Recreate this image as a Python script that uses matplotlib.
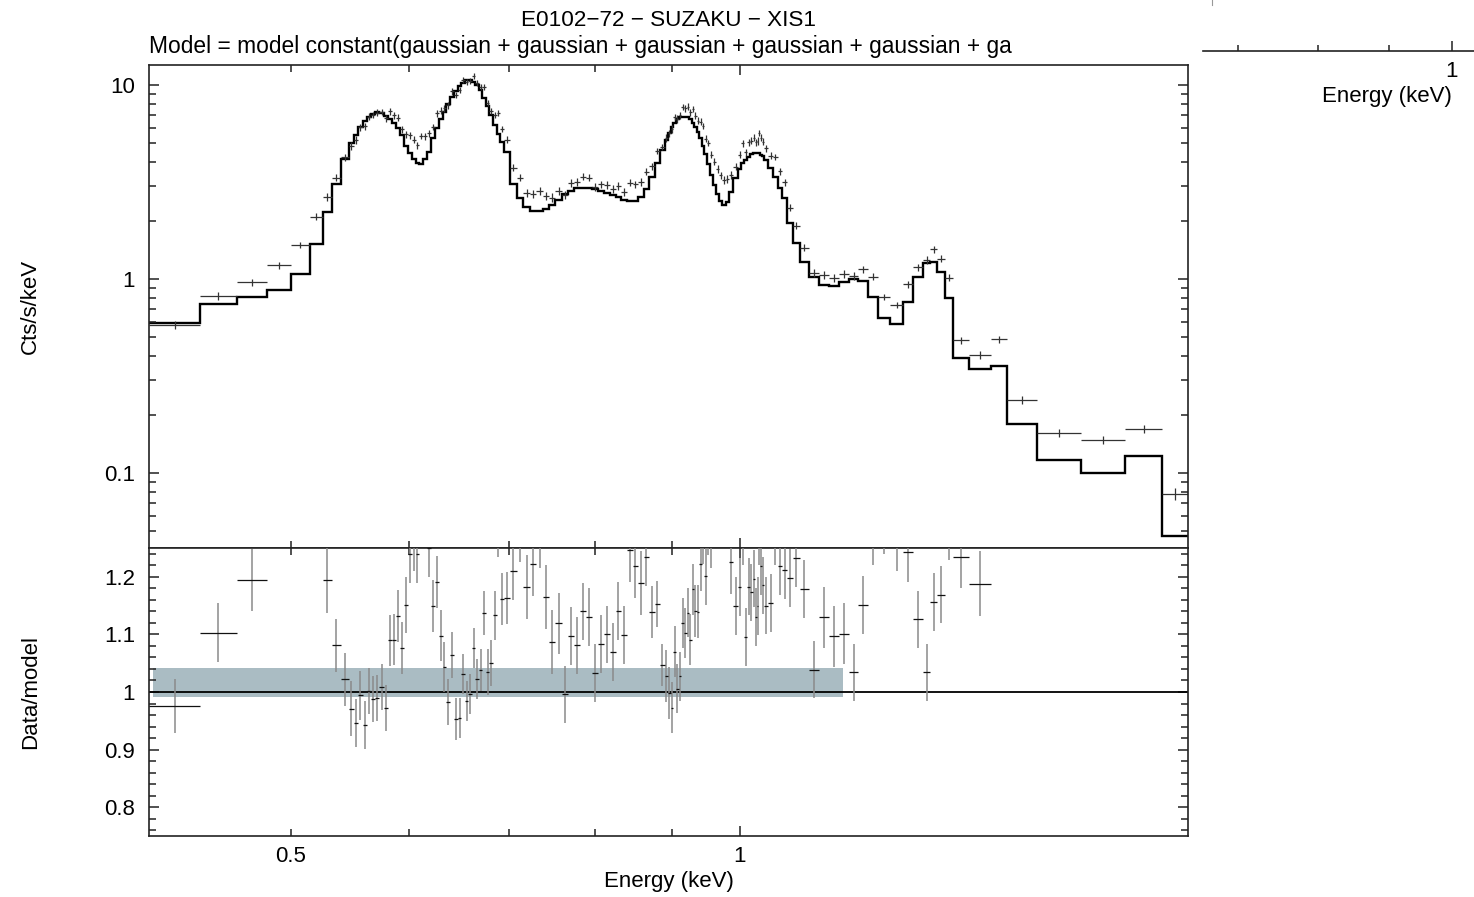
import numpy as np
import matplotlib
matplotlib.use("Agg")
import matplotlib.pyplot as plt
from matplotlib.ticker import FixedLocator, FixedFormatter, NullFormatter, LogLocator
from matplotlib.lines import Line2D

plt.rcParams['font.family'] = ['Liberation Sans', 'DejaVu Sans']

# bin edges (keV)
edges = np.array([
    0.4016, 0.4345, 0.4600, 0.4818, 0.5000, 0.5149, 0.5253, 0.5327, 0.5401,
    0.5468, 0.5510, 0.5548, 0.5585, 0.5623, 0.5659, 0.5695, 0.5732, 0.5769, 0.5806,
    0.5844, 0.5880, 0.5916, 0.5953, 0.5988, 0.6023, 0.6060, 0.6097, 0.6134, 0.6172,
    0.6209, 0.6245, 0.6281, 0.6318, 0.6355, 0.6393, 0.6430, 0.6468, 0.6505, 0.6541,
    0.6575, 0.6610, 0.6646, 0.6682, 0.6720, 0.6756, 0.6793, 0.6831, 0.6869, 0.6905,
    0.6947, 0.7009, 0.7084, 0.7157, 0.7231, 0.7303, 0.7375, 0.7449, 0.7522, 0.7595,
    0.7668, 0.7741, 0.7815, 0.7888, 0.7961, 0.8034, 0.8106, 0.8179, 0.8253, 0.8327,
    0.8401, 0.8473, 0.8544, 0.8618, 0.8693, 0.8766, 0.8837, 0.8901, 0.8948, 0.8985,
    0.9023, 0.9059, 0.9097, 0.9135, 0.9172, 0.9209, 0.9246, 0.9282, 0.9318, 0.9354,
    0.9392, 0.9430, 0.9466, 0.9504, 0.9546, 0.9590, 0.9637, 0.9684, 0.9732, 0.9782,
    0.9835, 0.9900, 0.9969, 1.0023, 1.0067, 1.0111, 1.0158, 1.0200, 1.0234, 1.0262,
    1.0288, 1.0315, 1.0343, 1.0384, 1.0448, 1.0523, 1.0599, 1.0674, 1.0757, 1.0853,
    1.0971, 1.1118, 1.1291, 1.1473, 1.1654, 1.1836,
    1.2004, 1.2191, 1.2380, 1.2606, 1.2868, 1.3068, 1.3271, 1.3409, 1.3561, 1.3723,
    1.3887, 1.4248, 1.4733, 1.5095, 1.5825, 1.6922, 1.8128, 1.9194, 1.9971])

# folded model (Cts/s/keV)
model = np.array([
    0.591, 0.740, 0.804, 0.878, 1.057, 1.52, 2.22, 3.08,
    4.14, 5.0, 5.5, 6.1, 6.5, 6.85, 7.1, 7.27, 7.2, 6.95,
    6.7, 6.4, 6.0, 5.5, 4.85, 4.45, 4.15, 3.95, 3.9, 4.15,
    4.5, 5.3, 6.0, 6.7, 7.3, 8.0, 8.7, 9.3, 9.85, 10.3,
    10.55, 10.55, 10.35, 10.0, 9.4, 8.6, 7.8, 7.0, 6.2, 5.6,
    5.1, 4.5, 3.1, 2.6, 2.36, 2.25, 2.24, 2.30, 2.42, 2.55,
    2.73, 2.85, 2.93, 2.96, 2.95, 2.90, 2.84, 2.78, 2.72, 2.64,
    2.56, 2.52, 2.52, 2.65, 2.9, 3.35, 3.95, 4.6, 5.2, 5.65,
    6.1, 6.4, 6.65, 6.8, 6.88, 6.88, 6.8, 6.65, 6.4, 6.1,
    5.75, 5.3, 4.85, 4.4, 3.9, 3.45, 3.05, 2.75, 2.52, 2.42,
    2.5, 2.8, 3.3, 3.7, 3.95, 4.1, 4.28, 4.4, 4.46, 4.48,
    4.48, 4.45, 4.38, 4.3, 4.1, 3.75, 3.35, 2.95, 2.6, 1.95,
    1.53, 1.23, 1.03, 0.93, 0.92, 0.965, 1.0, 0.975, 0.811, 0.627,
    0.584, 0.758, 1.02, 1.21, 1.23, 1.09, 0.795, 0.391, 0.342, 0.356,
    0.179, 0.116, 0.100, 0.122, 0.0474])

# data (Cts/s/keV)
data = np.array([
    0.577, 0.816, 0.961, 1.181, 1.501, 2.098, 2.651, 3.329,
    4.231, 4.855, 5.203, 6.063, 6.130, 6.864, 7.015, 7.190, 7.265, 6.755,
    7.303, 6.982, 6.792, 5.918, 5.582, 5.518, 5.229, 4.898, 5.46, 5.437,
    5.625, 6.090, 7.146, 7.357, 7.614, 7.864, 9.266, 8.863, 9.407, 10.62,
    10.38, 10.52, 11.14, 10.22, 9.757, 9.778, 8.073, 7.357, 7.025, 7.168,
    5.926, 5.234, 3.751, 3.328, 2.790, 2.750, 2.845, 2.680, 2.631, 2.853,
    2.719, 3.126, 3.167, 3.374, 3.334, 2.996, 3.076, 3.058, 2.908, 3.012,
    2.813, 3.140, 3.072, 3.151, 3.579, 3.816, 4.550, 4.816, 5.346, 5.639,
    5.935, 6.848, 6.690, 6.984, 7.706, 7.582, 7.738, 7.255, 7.539, 6.954,
    6.549, 6.482, 6.160, 5.284, 5.031, 4.382, 4.026, 3.685, 3.427, 3.243,
    3.275, 3.433, 3.792, 4.373, 5.017, 4.494, 5.063, 5.161, 5.339, 5.062,
    5.148, 5.652, 5.339, 5.096, 4.715, 4.328, 4.255, 3.593, 3.151, 2.336,
    1.886, 1.450, 1.070, 1.051, 1.009, 1.062, 1.034, 1.122, 1.030, 0.809,
    0.736, 0.942, 1.149, 1.251, 1.422, 1.274, 1.018, 0.483, 0.406, 0.488,
    0.238, 0.161, 0.148, 0.168, 0.0782])

# data/model
ratio = np.array([
    0.976, 1.103, 1.195, 1.345, 1.42, 1.38, 1.194, 1.081,
    1.022, 0.971, 0.946, 0.994, 0.943, 1.002, 0.988, 0.989, 1.009, 0.972,
    1.090, 1.091, 1.132, 1.076, 1.151, 1.24, 1.26, 1.24, 1.40, 1.31,
    1.25, 1.149, 1.191, 1.098, 1.043, 0.983, 1.065, 0.953, 0.955, 1.031,
    0.984, 0.997, 1.076, 1.022, 1.038, 1.137, 1.035, 1.051, 1.133, 1.28,
    1.162, 1.163, 1.21, 1.28, 1.182, 1.222, 1.27, 1.165, 1.087, 1.119,
    0.996, 1.097, 1.081, 1.140, 1.130, 1.033, 1.083, 1.100, 1.069, 1.141,
    1.099, 1.246, 1.219, 1.189, 1.234, 1.139, 1.152, 1.047, 1.028, 0.998,
    0.973, 1.070, 1.006, 1.027, 1.120, 1.102, 1.138, 1.091, 1.178, 1.140,
    1.139, 1.223, 1.27, 1.201, 1.29, 1.27, 1.32, 1.34, 1.36, 1.34,
    1.31, 1.226, 1.149, 1.182, 1.27, 1.096, 1.183, 1.173, 1.197, 1.130,
    1.149, 1.27, 1.219, 1.185, 1.150, 1.154, 1.27, 1.218, 1.212, 1.198,
    1.233, 1.179, 1.039, 1.13, 1.097, 1.101, 1.034, 1.151, 1.27, 1.29,
    1.26, 1.243, 1.126, 1.034, 1.156, 1.169, 1.28, 1.235, 1.188, 1.37,
    1.33, 1.39, 1.48, 1.38, 1.65])

ratio_err = np.array([
    0.047, 0.051, 0.054, 0.055, 0.055, 0.055, 0.056, 0.046,
    0.046, 0.048, 0.041, 0.042, 0.042, 0.040, 0.040, 0.040, 0.040, 0.040,
    0.044, 0.044, 0.045, 0.045, 0.048, 0.050, 0.050, 0.050, 0.050, 0.050,
    0.050, 0.045, 0.045, 0.045, 0.043, 0.040, 0.040, 0.036, 0.035, 0.035,
    0.035, 0.035, 0.035, 0.035, 0.036, 0.038, 0.040, 0.040, 0.042, 0.045,
    0.045, 0.045, 0.050, 0.055, 0.055, 0.055, 0.055, 0.055, 0.055, 0.053,
    0.050, 0.050, 0.050, 0.050, 0.050, 0.050, 0.050, 0.050, 0.050, 0.050,
    0.050, 0.055, 0.055, 0.055, 0.050, 0.045, 0.040, 0.036, 0.045, 0.045,
    0.044, 0.044, 0.043, 0.043, 0.043, 0.043, 0.043, 0.044, 0.044, 0.045,
    0.046, 0.047, 0.048, 0.050, 0.052, 0.055, 0.058, 0.060, 0.060, 0.060,
    0.060, 0.055, 0.050, 0.050, 0.050, 0.050, 0.050, 0.050, 0.050, 0.050,
    0.050, 0.050, 0.050, 0.050, 0.050, 0.050, 0.050, 0.050, 0.050, 0.050,
    0.050, 0.050, 0.050, 0.053, 0.053, 0.053, 0.050, 0.050, 0.050, 0.050,
    0.050, 0.052, 0.050, 0.050, 0.050, 0.050, 0.050, 0.055, 0.056, 0.060,
    0.060, 0.065, 0.070, 0.065, 0.120])

# shaded band in the ratio panel
band_emin, band_emax = 0.4041, 1.1724
band_lo, band_hi = 0.991, 1.042

title = 'E0102\u221272 \u2212 SUZAKU \u2212 XIS1'
subtitle = 'Model = model constant(gaussian + gaussian + gaussian + gaussian + gaussian + ga'

lo, hi = edges[:-1], edges[1:]
cen = np.sqrt(lo * hi)
xerr = [cen - lo, hi - cen]
data_err = data * ratio_err / ratio

W, H = 1474, 897
fig = plt.figure(figsize=(W / 100, H / 100), dpi=100)
ax1 = fig.add_axes([149 / W, 1 - 548 / H, 1039 / W, 483 / H])
ax2 = fig.add_axes([149 / W, 1 - 836 / H, 1039 / W, 288 / H])

FS = 16
ink = '#222222'

# top panel
ax1.stairs(model, edges, baseline=None, color='black', lw=1.7)
ax1.errorbar(cen, data, xerr=xerr, yerr=data_err, fmt='none',
             ecolor='#333333', elinewidth=0.9, capsize=0)
ax1.set_xscale('log')
ax1.set_yscale('log')
ax1.set_xlim(edges[0], edges[-1])
ax1.set_ylim(0.04106, 12.68)
ax1.yaxis.set_major_locator(FixedLocator([0.1, 1, 10]))
ax1.yaxis.set_major_formatter(FixedFormatter(['0.1', '1', '10']))
ax1.yaxis.set_minor_locator(LogLocator(base=10, subs=range(2, 10)))
ax1.yaxis.set_minor_formatter(NullFormatter())
ax1.set_ylabel('Cts/s/keV', fontsize=FS)

# bottom panel
ax2.fill_between([band_emin, band_emax], band_lo, band_hi, color='#aabcc3', lw=0, zorder=1)
ax2.axhline(1.0, color='black', lw=1.3, zorder=2)
ax2.errorbar(cen, ratio, yerr=ratio_err, fmt='none', ecolor='#8a8a8a',
             elinewidth=1.1, capsize=0, zorder=3)
ax2.errorbar(cen, ratio, xerr=xerr, fmt='none', ecolor='#111111',
             elinewidth=0.9, capsize=0, zorder=4)
ax2.set_xscale('log')
ax2.set_xlim(edges[0], edges[-1])
ax2.set_ylim(0.75, 1.25)
ax2.yaxis.set_major_locator(FixedLocator([0.8, 0.9, 1.0, 1.1, 1.2]))
ax2.yaxis.set_major_formatter(FixedFormatter(['0.8', '0.9', '1', '1.1', '1.2']))
ax2.yaxis.set_minor_locator(FixedLocator(np.arange(0.76, 1.25, 0.02)))
ax2.set_ylabel('Data/model', fontsize=FS)
ax2.set_xlabel('Energy (keV)', fontsize=FS, labelpad=3)

for ax in (ax1, ax2):
    ax.xaxis.set_major_locator(FixedLocator([1.0]))
    ax.xaxis.set_minor_locator(FixedLocator([0.5, 0.6, 0.7, 0.8, 0.9]))
    ax.tick_params(which='both', direction='in', top=True, right=True,
                   labelsize=FS, color=ink, width=1.1)
    ax.tick_params(which='major', length=7.5)
    ax.tick_params(which='minor', length=4.8)
    ax.tick_params(axis='y', which='both', pad=10)
    ax.tick_params(axis='x', which='both', pad=7)
    ax.yaxis.set_label_coords(-0.104, 0.5)
    for s in ax.spines.values():
        s.set_linewidth(1.2)
        s.set_color(ink)

ax1.xaxis.set_major_formatter(NullFormatter())
ax1.xaxis.set_minor_formatter(NullFormatter())
ax2.xaxis.set_major_formatter(FixedFormatter(['1']))
ax2.xaxis.set_minor_formatter(FixedFormatter(['0.5', '', '', '', '']))

fig.text(668.5 / W, 1 - 20 / H, title, ha='center', va='center', fontsize=16.2)
fig.text(149 / W, 1 - 47 / H, subtitle, ha='left', va='center', fontsize=16.4)

# fragment of a neighbouring plot at the top right
ax3 = fig.add_axes([1203 / W, 1 - 51 / H, 368 / W, 0.02])
ax3.set_xscale('log')
ax3.set_xlim(0.6601, 1.2199)
ax3.patch.set_visible(False)
for side in ('top', 'left', 'right'):
    ax3.spines[side].set_visible(False)
ax3.spines['bottom'].set_linewidth(1.2)
ax3.spines['bottom'].set_color(ink)
ax3.set_yticks([])
ax3.xaxis.set_major_locator(FixedLocator([1.0]))
ax3.xaxis.set_major_formatter(FixedFormatter(['1']))
ax3.xaxis.set_minor_locator(FixedLocator([0.7, 0.8, 0.9]))
ax3.xaxis.set_minor_formatter(NullFormatter())
ax3.tick_params(which='both', direction='in', labelsize=FS, color=ink, width=1.1, pad=7)
ax3.tick_params(which='major', length=7)
ax3.tick_params(which='minor', length=4)
ax3.set_xlabel('Energy (keV)', fontsize=FS, labelpad=3)
fig.add_artist(Line2D([1212 / W, 1212 / W], [1, 1 - 5 / H], transform=fig.transFigure,
                      color='#999999', lw=0.8))

fig.savefig('out.png', dpi=100)
